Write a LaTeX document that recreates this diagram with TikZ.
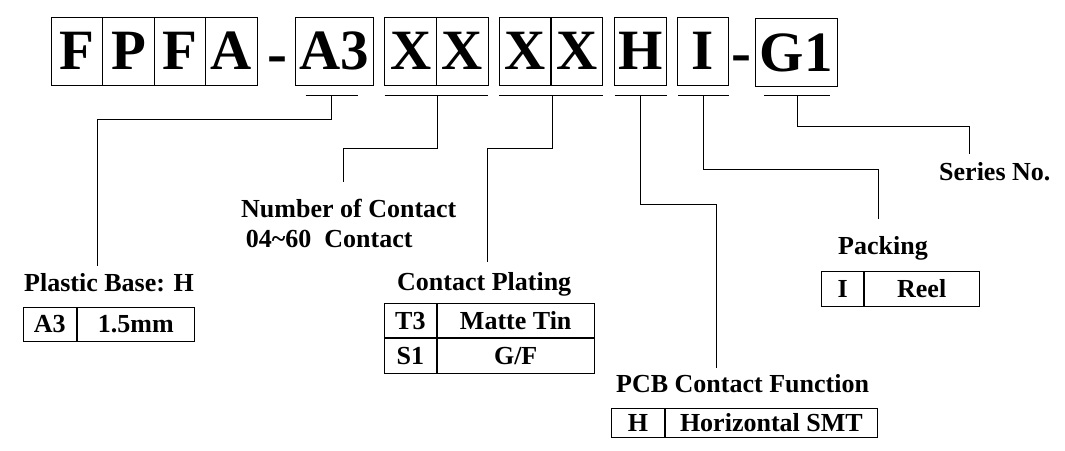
\documentclass[tikz,border=0pt]{standalone}
\usepackage{fontspec}
\setmainfont{Liberation Serif}
\begin{document}
\begin{tikzpicture}[x=1pt,y=-1pt,
        letter/.style={draw, line width=0.8pt, inner sep=0pt, minimum width=51.5pt, minimum height=68pt,
            font=\bfseries\fontsize{57}{60}\selectfont},
        dashsign/.style={inner sep=0pt, anchor=base, font=\bfseries\fontsize{60}{60}\selectfont},
        partname/.style={inner sep=0pt, anchor=base west, font=\bfseries\fontsize{26}{30}\selectfont},
        tabcell/.style={draw, line width=0.8pt, inner sep=0pt, font=\bfseries\fontsize{26}{30}\selectfont},
        link/.style={line width=0.8pt}]

        \useasboundingbox (0,0) rectangle (1065,450);

        % part number boxes
        \foreach \c [count=\i] in {F,P,F,A}
            \node[letter] (c\i) at (25.5+51.5*\i, 51) {\c};
        \node[dashsign] (d1) at (277,73.5) {-};
        \node[letter, minimum width=78.6pt] (base) at (334.3,51) {A3};
        \node[letter] (x1) at (410.6,51) {X};
        \node[letter] (x2) at (462.3,51) {X};
        \node[letter] (x3) at (525,51) {X};
        \node[letter] (x4) at (577,51) {X};
        \node[letter, minimum width=52.2pt] (h) at (640.6,51) {H};
        \node[letter] (i) at (702.7,51) {I};
        \node[dashsign] (d2) at (741.5,72.5) {-};
        \node[letter, minimum width=81.3pt] (g) at (796.4,52.5) {G1};

        % underlines
        \draw[link] (305.7,95) -- (357.7,95);
        \draw[link] (384.6,95) -- (488,95);
        \draw[link] (499,95) -- (603,95);
        \draw[link] (614.5,95) -- (666.7,95);
        \draw[link] (678,95) -- (728.5,95);
        \draw[link] (764,95) -- (830,95);

        \coordinate (u1) at (331.7,95);
        \coordinate (u2) at (437,95);
        \coordinate (u3) at (552,95);
        \coordinate (u4) at (640.6,95);
        \coordinate (u5) at (703,95);
        \coordinate (u6) at (797,95);

        \coordinate (e1) at (97.7,265.7);
        \coordinate (e2) at (343,182.3);
        \coordinate (e3) at (487,262);
        \coordinate (e4) at (716.7,368);
        \coordinate (e5) at (878,219);
        \coordinate (e6) at (969,154);

        \draw[link] (u1) -- ++(0,24) -| (e1);
        \draw[link] (u2) -- ++(0,53) -| (e2);
        \draw[link] (u3) -- ++(0,53) -| (e3);
        \draw[link] (u4) -- ++(0,109) -| (e4);
        \draw[link] (u5) -- ++(0,74) -| (e5);
        \draw[link] (u6) -- ++(0,31) -| (e6);

        % titles
        \node[partname] (basename) at (24,291.7) {Plastic Base: H};
        \node[partname] (countname) at (241,217) {Number of Contact};
        \node[partname] (countrange) at (245.7,247.3) {04\textasciitilde60\ \ Contact};
        \node[partname] (platename) at (397,290) {Contact Plating};
        \node[partname] (pcbname) at (616,392.3) {PCB Contact Function};
        \node[partname] (packname) at (838,254) {Packing};
        \node[partname] (seriesname) at (939,180) {Series No.};

        % tables
        \node[tabcell, minimum width=53.3pt, minimum height=34.3pt, anchor=north west] (b1) at (22.7,306.7) {A3};
        \node[tabcell, minimum width=117.3pt, minimum height=34.3pt, anchor=west] (b2) at (b1.east) {1.5mm};

        \node[tabcell, minimum width=52pt, minimum height=34pt, anchor=north west] (p1) at (384,303.3) {T3};
        \node[tabcell, minimum width=157pt, minimum height=34pt, anchor=west] (p2) at (p1.east) {Matte Tin};
        \node[tabcell, minimum width=52pt, minimum height=34.4pt, anchor=north] (p3) at (p1.south) {S1};
        \node[tabcell, minimum width=157pt, minimum height=34.4pt, anchor=west] (p4) at (p3.east) {G/F};

        \node[tabcell, minimum width=53.3pt, minimum height=28.4pt, anchor=north west] (f1) at (611,408.3) {H};
        \node[tabcell, minimum width=211.7pt, minimum height=28.4pt, anchor=west] (f2) at (f1.east) {Horizontal SMT};

        \node[tabcell, minimum width=42.3pt, minimum height=35pt, anchor=north west] (k1) at (821,271) {I};
        \node[tabcell, minimum width=114.4pt, minimum height=35pt, anchor=west] (k2) at (k1.east) {Reel};

    \end{tikzpicture}
\end{document}
